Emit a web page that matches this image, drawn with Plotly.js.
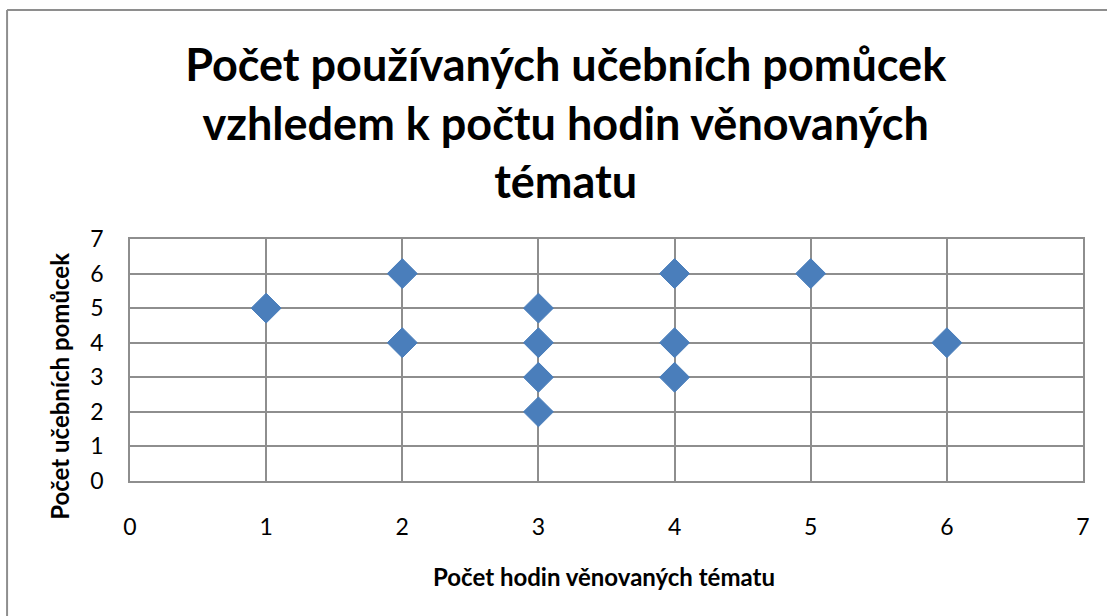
<!DOCTYPE html>
<html>
<head>
<meta charset="utf-8">
<script src="https://cdn.plot.ly/plotly-3.0.1.min.js"></script>
<style>html,body{margin:0;padding:0;background:#fff;}#chart{width:1107px;height:616px;}</style>
</head>
<body>
<div id="chart"></div>
<script>
const hours = [1, 2, 2, 3, 3, 3, 3, 4, 4, 4, 5, 6];
const aids  = [5, 6, 4, 5, 4, 3, 2, 6, 4, 3, 6, 4];
const xTicks = [0, 1, 2, 3, 4, 5, 6, 7];
const yTicks = [0, 1, 2, 3, 4, 5, 6, 7];
const chartTitle = 'Počet používaných učebních pomůcek<br>vzhledem k počtu hodin věnovaných<br>tématu';
const xTitle = 'Počet hodin věnovaných tématu';
const yTitle = 'Počet učebních pomůcek';

const FONT = 'Lato, "Open Sans", sans-serif';
const trace = {
  x: hours, y: aids, type: 'scatter', mode: 'markers',
  marker: {symbol: 'diamond', size: 23, color: '#4A7EBB', line: {color: '#4A7EBB', width: 1}},
  hoverinfo: 'x+y'
};
const axisBase = {
  showgrid: true, gridcolor: '#8E8E8E', gridwidth: 1.5,
  zeroline: false, showline: true, linecolor: '#8E8E8E', linewidth: 1.5, mirror: true,
  tickfont: {family: FONT, size: 23, color: '#000'},
  fixedrange: true
};
const layout = {
  width: 1107, height: 616,
  margin: {l: 130, r: 24, t: 239, b: 135},
  paper_bgcolor: '#fff', plot_bgcolor: '#fff',
  showlegend: false,
  title: {text: chartTitle, x: 0.511, xanchor: 'center', y: 0.868, yanchor: 'top',
          font: {family: FONT, size: 45, color: '#000', weight: 'bold'}},
  xaxis: Object.assign({}, axisBase, {range: [0, 7], tickvals: xTicks, ticktext: xTicks.map(String),
          ticks: 'outside', ticklen: 25, tickcolor: 'rgba(0,0,0,0)'}),
  yaxis: Object.assign({}, axisBase, {range: [0, 7], tickvals: yTicks, ticktext: yTicks.map(String),
          ticks: 'outside', ticklen: 20, tickcolor: 'rgba(0,0,0,0)'}),
  annotations: [
    {text: '<b>' + xTitle + '</b>', xref: 'paper', yref: 'paper', x: 0.497, y: -0.395,
     xanchor: 'center', yanchor: 'middle', showarrow: false, font: {family: FONT, size: 24, color: '#000'}},
    {text: '<b>' + yTitle + '</b>', xref: 'paper', yref: 'paper', x: -0.0735, y: 0.393,
     xanchor: 'center', yanchor: 'middle', textangle: -90, showarrow: false, font: {family: FONT, size: 24, color: '#000'}}
  ],
  shapes: [
    {type: 'line', xref: 'paper', yref: 'paper', x0: -0.129, x1: -0.129, y0: 1.946, y1: -0.7, line: {color: '#8E8E8E', width: 2}},
    {type: 'line', xref: 'paper', yref: 'paper', x0: -0.129, x1: 1.05, y0: 1.946, y1: 1.946, line: {color: '#8E8E8E', width: 2}}
  ]
};
Plotly.newPlot('chart', [trace], layout, {displayModeBar: false});
</script>
</body>
</html>
